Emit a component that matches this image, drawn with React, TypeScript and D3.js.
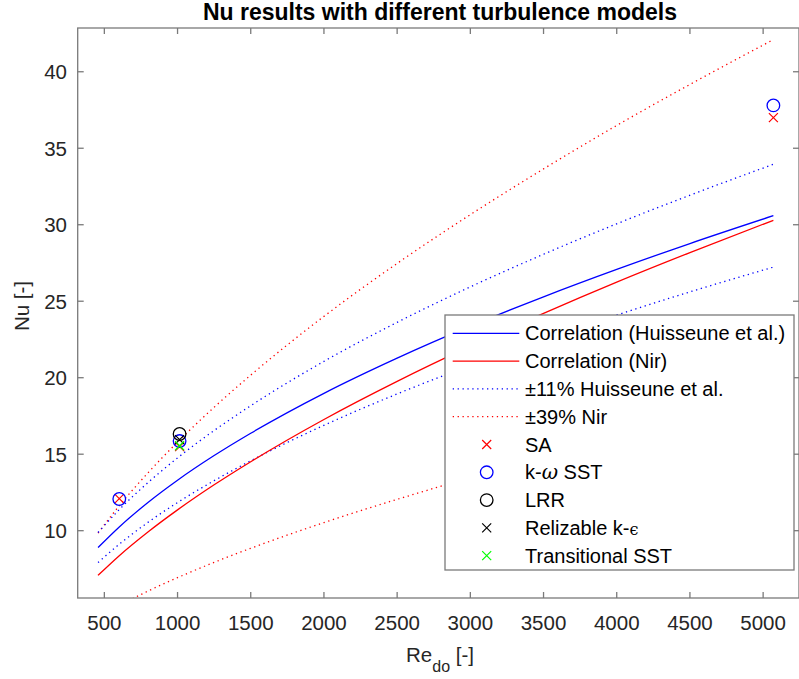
import React from "react";
import * as d3 from "d3";

const re = [457, 600, 800, 1000, 1250, 1500, 2000, 2500, 3000, 3500, 4000, 4500, 5070];
const nuHuisseune = [8.9, 10.23, 11.86, 13.3, 14.91, 16.37, 18.98, 21.28, 23.37, 25.29, 27.08, 28.77, 30.59];
const nuNir = [7.08, 8.35, 9.93, 11.36, 13.0, 14.51, 17.27, 19.76, 22.06, 24.21, 26.25, 28.18, 30.29];
const huisUpper = [9.88, 11.36, 13.16, 14.76, 16.55, 18.17, 21.07, 23.62, 25.94, 28.07, 30.06, 31.93, 33.95];
const huisLower = [7.92, 9.1, 10.56, 11.84, 13.27, 14.57, 16.89, 18.94, 20.8, 22.51, 24.1, 25.61, 27.23];
const nirUpper = [9.84, 11.61, 13.8, 15.79, 18.07, 20.17, 24.01, 27.47, 30.66, 33.65, 36.49, 39.17, 42.1];
const nirLower = [4.32, 5.09, 6.06, 6.93, 7.93, 8.85, 10.53, 12.05, 13.46, 14.77, 16.01, 17.19, 18.48];

const saRe = [602, 1014, 5070];
const saNu = [12.1, 15.5, 37.0];
const sstRe = [602, 1014, 5070];
const sstNu = [12.07, 15.86, 37.8];
const lrrRe = [1014];
const lrrNu = [16.32];
const rkeRe = [1014];
const rkeNu = [15.95];
const transRe = [1014];
const transNu = [15.55];

const xTicks = [500, 1000, 1500, 2000, 2500, 3000, 3500, 4000, 4500, 5000];
const yTicks = [10, 15, 20, 25, 30, 35, 40];

const FONT = "'Liberation Sans', Arial, Helvetica, sans-serif";
const AXC = "#7a7a7a";
const TXT = "#262626";

export default function App() {
  const L = 77.7, R = 799, T = 28, B = 598;
  const x = d3.scaleLinear().domain([318, 5245]).range([L, R]);
  const y = d3.scaleLinear().domain([5.6, 42.86]).range([B, T]);
  const line = (ys: number[]) =>
    d3.line<number>().x((_, i) => x(re[i])).y((d) => y(d)).curve(d3.curveMonotoneX)(ys) || "";

  const cross = (cx: number, cy: number, c: string, k: string) => {
    const s = 4.5;
    return (
      <path key={k} d={`M${cx - s},${cy - s}L${cx + s},${cy + s}M${cx - s},${cy + s}L${cx + s},${cy - s}`} stroke={c} strokeWidth={1.2} fill="none" />
    );
  };
  const circ = (cx: number, cy: number, c: string, k: string) => (
    <circle key={k} cx={cx} cy={cy} r={6.3} stroke={c} strokeWidth={1.3} fill="none" />
  );

  const lx0 = 445, ly0 = 315, lx1 = 794, ly1 = 570;
  const rowY = (i: number) => 333.3 + i * 27.8;
  const sx0 = 452.7, sx1 = 519.3, mx = 486.7, tx = 525;

  const legendItems: { label: React.ReactNode; kind: string; color: string }[] = [
    { label: "Correlation (Huisseune et al.)", kind: "solid", color: "#0000ff" },
    { label: "Correlation (Nir)", kind: "solid", color: "#ff0000" },
    { label: "±11% Huisseune et al.", kind: "dot", color: "#0000ff" },
    { label: "±39% Nir", kind: "dot", color: "#ff0000" },
    { label: "SA", kind: "x", color: "#ff0000" },
    { label: <>k-<tspan fontStyle="italic" fontFamily="'DejaVu Serif', serif">ω</tspan> SST</>, kind: "o", color: "#0000ff" },
    { label: "LRR", kind: "o", color: "#000000" },
    { label: <>Relizable k-<tspan fontFamily="'DejaVu Serif', serif" fontSize={16}>ϵ</tspan></>, kind: "x", color: "#000000" },
    { label: "Transitional SST", kind: "x", color: "#00ff00" },
  ];

  const dotDash = "1.3 3.6";

  return (
    <svg width={799} height={679} style={{ position: "absolute", left: 0, top: 0, background: "#fff" }} fontFamily={FONT}>
      <rect x={0} y={0} width={799} height={679} fill="#fff" />
      <defs>
        <clipPath id="plotclip">
          <rect x={L} y={T} width={R - L} height={B - T} />
        </clipPath>
      </defs>
      <text x={440} y={20} textAnchor="middle" fontWeight="bold" fontSize={23} fill="#000">
        Nu results with different turbulence models
      </text>

      <g clipPath="url(#plotclip)">
        <path d={line(nirUpper)} stroke="#ff0000" strokeWidth={1.3} fill="none" strokeDasharray={dotDash} />
        <path d={line(nirLower)} stroke="#ff0000" strokeWidth={1.3} fill="none" strokeDasharray={dotDash} />
        <path d={line(huisUpper)} stroke="#0000ff" strokeWidth={1.3} fill="none" strokeDasharray={dotDash} />
        <path d={line(huisLower)} stroke="#0000ff" strokeWidth={1.3} fill="none" strokeDasharray={dotDash} />
        <path d={line(nuHuisseune)} stroke="#0000ff" strokeWidth={1.3} fill="none" />
        <path d={line(nuNir)} stroke="#ff0000" strokeWidth={1.3} fill="none" />
        {saRe.map((r, i) => cross(x(r), y(saNu[i]), "#ff0000", "sa" + i))}
        {sstRe.map((r, i) => circ(x(r), y(sstNu[i]), "#0000ff", "sst" + i))}
        {lrrRe.map((r, i) => circ(x(r), y(lrrNu[i]), "#000000", "lrr" + i))}
        {rkeRe.map((r, i) => cross(x(r), y(rkeNu[i]), "#000000", "rke" + i))}
        {transRe.map((r, i) => cross(x(r), y(transNu[i]), "#00ff00", "tr" + i))}
      </g>

      {/* axes box */}
      <rect x={L} y={T} width={R - L} height={B - T} fill="none" stroke={AXC} strokeWidth={1.3} />
      {xTicks.map((t) => (
        <g key={"xt" + t}>
          <line x1={x(t)} x2={x(t)} y1={B} y2={B - 6} stroke={AXC} strokeWidth={1.3} />
          <line x1={x(t)} x2={x(t)} y1={T} y2={T + 6} stroke={AXC} strokeWidth={1.3} />
          <text x={x(t)} y={630} textAnchor="middle" fontSize={20.5} fill={TXT}>{t}</text>
        </g>
      ))}
      {yTicks.map((t) => (
        <g key={"yt" + t}>
          <line x1={L} x2={L + 6} y1={y(t)} y2={y(t)} stroke={AXC} strokeWidth={1.3} />
          <line x1={R} x2={R - 6} y1={y(t)} y2={y(t)} stroke={AXC} strokeWidth={1.3} />
          <text x={67} y={y(t)} dy="0.36em" textAnchor="end" fontSize={20.5} fill={TXT}>{t}</text>
        </g>
      ))}

      <text x={440} y={662} textAnchor="middle" fontSize={20.5} fill={TXT}>
        Re<tspan fontSize={16} dy={10}>do</tspan><tspan dy={-10}> [-]</tspan>
      </text>
      <text transform="translate(29,306) rotate(-90)" textAnchor="middle" fontSize={20.5} fill={TXT}>
        Nu [-]
      </text>

      {/* legend */}
      <rect x={lx0} y={ly0} width={lx1 - lx0} height={ly1 - ly0} fill="#fff" stroke={AXC} strokeWidth={1.3} />
      {legendItems.map((it, i) => {
        const cy = rowY(i);
        let sym: React.ReactNode = null;
        if (it.kind === "solid") sym = <line x1={sx0} x2={sx1} y1={cy} y2={cy} stroke={it.color} strokeWidth={1.3} />;
        else if (it.kind === "dot") sym = <line x1={sx0} x2={sx1} y1={cy} y2={cy} stroke={it.color} strokeWidth={1.3} strokeDasharray={dotDash} />;
        else if (it.kind === "x") sym = cross(mx, cy, it.color, "lx" + i);
        else sym = circ(mx, cy, it.color, "lo" + i);
        return (
          <g key={"lg" + i}>
            {sym}
            <text x={tx} y={cy + 7} fontSize={20} fill="#000">{it.label}</text>
          </g>
        );
      })}
    </svg>
  );
}
